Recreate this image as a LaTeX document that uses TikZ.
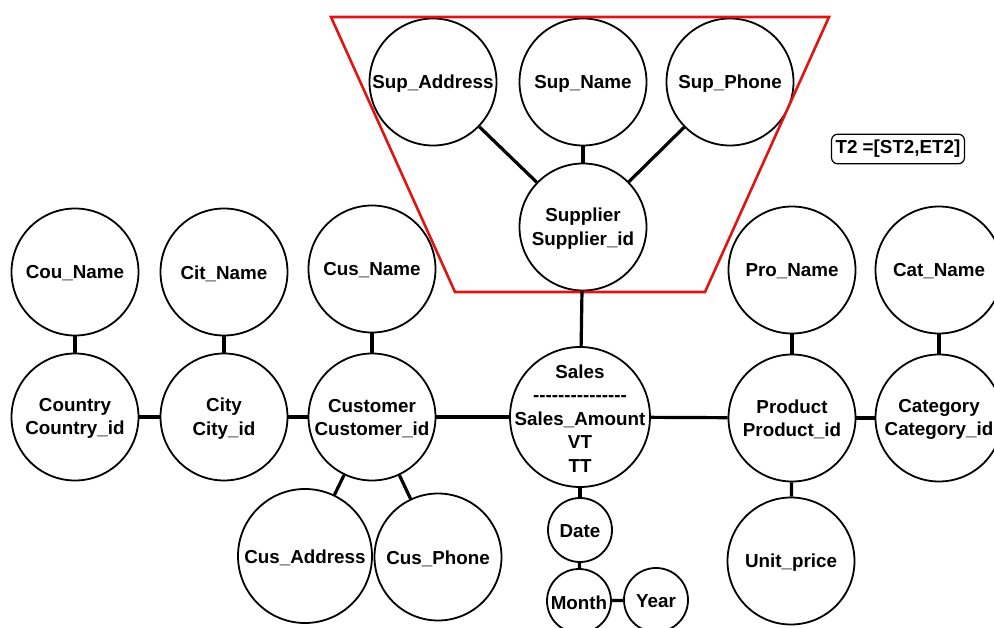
\documentclass[tikz,border=0pt]{standalone}
\usepackage{fontspec}
\setmainfont{Liberation Sans}
\newcommand\hy{-\kern0pt}
\begin{document}
\begin{tikzpicture}[x=1pt,y=-1pt,
  ent/.style={circle, draw, line width=1.8pt, minimum size=#1, inner sep=0pt},
  ent/.default=127pt,
  lbl/.style={align=center, font=\bfseries\fontsize{18.8}{23.5}\selectfont, inner sep=0pt, yshift=-1.5pt},
  link/.style={line width=3.2pt},
  grp/.style={draw={rgb,255:red,225;green,20;blue,20}, line width=2.6pt, line join=miter}]
\useasboundingbox (0,0) rectangle (994,628);
% supplier group
\node[ent, label={[lbl]center:Sup\_Address}] (supaddr) at (433,82) {};
\node[ent, label={[lbl]center:Sup\_Name}] (supname) at (583,82) {};
\node[ent, label={[lbl]center:Sup\_Phone}] (supphone) at (730,82) {};
\node[ent, label={[lbl]center:Supplier\\Supplier\_id}] (supplier) at (583,227) {};
\draw[grp] (331,17) -- (829,17) -- (705,292) -- (455,292) -- cycle;
% top row
\node[ent, label={[lbl]center:Cou\_Name}] (couname) at (75,272) {};
\node[ent, label={[lbl]center:Cit\_Name}] (citname) at (224,272) {};
\node[ent, label={[lbl]center:Cus\_Name}] (cusname) at (372,269) {};
\node[ent, label={[lbl]center:Pro\_Name}] (proname) at (792,270) {};
\node[ent, label={[lbl]center:Cat\_Name}] (catname) at (939,270) {};
% middle row
\node[ent, label={[lbl]center:Country\\Country\_id}] (country) at (75,417) {};
\node[ent, label={[lbl]center:City\\City\_id}] (city) at (224,417) {};
\node[ent, label={[lbl]center:Customer\\Customer\_id}] (customer) at (372,417) {};
\node[ent=140pt, label={[lbl]center:Sales\\\hy\hy\hy\hy\hy\hy\hy\hy\hy\hy\hy\hy\hy\hy-\\Sales\_Amount\\VT\\TT}] (sales) at (580,417) {};
\node[ent, label={[lbl]center:Product\\Product\_id}] (product) at (792,418) {};
\node[ent, label={[lbl]center:Category\\Category\_id}] (category) at (939,418) {};
% bottom row
\node[ent=134pt, label={[lbl]center:Cus\_Address}] (cusaddr) at (305,556) {};
\node[ent, label={[lbl]center:Cus\_Phone}] (cusphone) at (438,557) {};
\node[ent=64pt, label={[lbl]center:Date}] (date) at (580,530) {};
\node[ent=64pt, label={[lbl]center:Month}] (month) at (579,601) {};
\node[ent=64pt, label={[lbl]center:Year}] (year) at (656,600) {};
\node[ent, label={[lbl]center:Unit\_price}] (unitprice) at (791,561) {};
% time label
\node[draw, line width=1.2pt, rounded corners=6pt, inner xsep=4pt, inner ysep=6pt,
      font=\bfseries\fontsize{18.8}{23.5}\selectfont] (t2) at (898,149) {T2 =[ST2,ET2]};
% connectors
\draw[link] (supaddr) -- (supplier);
\draw[link] (supname) -- (supplier);
\draw[link] (supphone) -- (supplier);
\draw[link] (supplier) -- (sales);
\draw[link] (couname) -- (country);
\draw[link] (citname) -- (city);
\draw[link] (cusname) -- (customer);
\draw[link] (country) -- (city);
\draw[link] (city) -- (customer);
\draw[link] (customer) -- (sales);
\draw[link] (customer) -- (cusaddr);
\draw[link] (customer) -- (cusphone);
\draw[link] (sales) -- (date);
\draw[link] (date) -- (month);
\draw[link] (month) -- (year);
\draw[link] (sales) -- (product);
\draw[link] (product) -- (category);
\draw[link] (proname) -- (product);
\draw[link] (catname) -- (category);
\draw[link] (product) -- (unitprice);
\end{tikzpicture}
\end{document}
